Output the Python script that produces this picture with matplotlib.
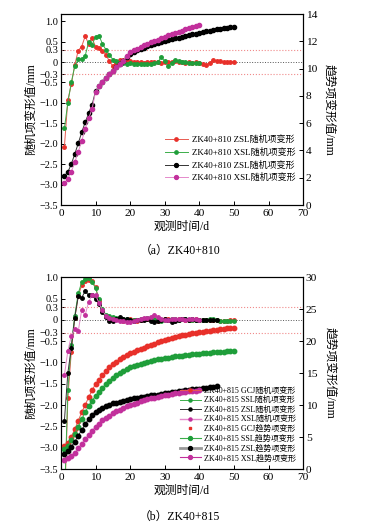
import matplotlib
matplotlib.use("Agg")
import matplotlib.pyplot as plt
from matplotlib.lines import Line2D

plt.rcParams['font.family'] = ['Liberation Serif', 'Noto Sans CJK SC']
plt.rcParams['axes.unicode_minus'] = True

# ---------------- data: panel (a) ZK40+810 ----------------
a_zsl_rand = [-2.08, -0.93, -0.55, -0.07, 0.28, 0.38, 0.63, 0.45, 0.58, 0.38,
              0.34, 0.28, 0.18, 0.02, -0.10, -0.03, 0.04, 0.04, 0.03, 0.02,
              0.0, -0.01, 0.0, -0.02, -0.01, 0.0, 0.01, -0.01, -0.02, 0.0,
              0.01, -0.01, 0.02, 0.0, -0.01, -0.02, -0.01, -0.02, -0.01, -0.02,
              -0.04, -0.07, -0.02, 0.04, 0.03, 0.02, 0.01, 0.01, 0.0, 0.01]
a_xsl_rand = [-1.62, -1.0, -0.5, -0.1, 0.07, 0.07, 0.15, 0.48, 0.42, 0.62,
              0.64, 0.45, 0.30, 0.18, 0.06, 0.02, -0.02, -0.03, -0.04, -0.03,
              -0.04, -0.05, -0.04, -0.05, -0.04, -0.05, -0.03, 0.0, 0.12, 0.02,
              -0.10, -0.02, 0.05, 0.03, 0.0, -0.01, -0.02, -0.03, -0.02, -0.03]
a_zsl_trend = [2.13, 2.42, 3.0, 3.74, 4.52, 5.33, 6.06, 6.72, 7.35, 8.35,
               8.7, 9.05, 9.35, 9.6, 9.85, 10.1, 10.35, 10.6, 10.85, 11.1,
               11.22, 11.34, 11.45, 11.55, 11.64, 11.73, 11.8, 11.88, 11.95, 12.02,
               12.09, 12.16, 12.22, 12.28, 12.34, 12.4, 12.46, 12.52, 12.58, 12.64,
               12.69, 12.74, 12.79, 12.84, 12.88, 12.92, 12.96, 13.0, 13.04, 13.07]
a_xsl_trend = [1.59, 1.93, 2.44, 3.13, 3.89, 4.71, 5.55, 6.35, 7.04, 8.3,
               8.7, 9.05, 9.35, 9.6, 9.85, 10.1, 10.35, 10.6, 10.9, 11.2,
               11.35, 11.48, 11.6, 11.72, 11.83, 11.94, 12.04, 12.14, 12.24, 12.34,
               12.44, 12.53, 12.62, 12.71, 12.8, 12.88, 12.96, 13.04, 13.12, 13.2]

# ---------------- data: panel (b) ZK40+815 ----------------
b_gcj_rand = [-4.5, -1.84, -0.75, 0.05, 0.55, 0.82, 0.9, 0.93, 0.9, 0.78,
              0.45, 0.2, 0.1, 0.05, 0.03, 0.02, 0.0, -0.02, 0.0, 0.02,
              0.0, -0.02, 0.0, 0.02, 0.03, 0.02, 0.0, -0.02, 0.0, 0.02,
              0.01, 0.0, -0.01, 0.01, 0.02, 0.0, -0.01, 0.0, 0.01, 0.0,
              -0.01, 0.0, 0.0, -0.01, 0.0, -0.02, -0.03, -0.02, -0.01, 0.0]
b_ssl_rand = [-4.3, -1.65, -0.6, 0.1, 0.62, 0.88, 0.95, 0.97, 0.88, 0.75,
              0.48, 0.25, 0.12, 0.08, 0.06, 0.05, 0.04, 0.03, 0.02, 0.0,
              -0.01, 0.0, 0.02, 0.03, 0.04, 0.05, 0.03, 0.0, -0.03, -0.01,
              0.0, 0.02, 0.01, 0.0, 0.01, 0.02, 0.0, -0.01, 0.0, 0.0,
              -0.01, 0.0, 0.02, 0.03, 0.0, -0.02, -0.03, -0.03, -0.02, -0.02]
b_zsl_rand = [-2.37, -1.25, -0.65, 0.05, 0.55, 0.52, 0.67, 0.58, 0.58, 0.48,
              0.38, 0.18, 0.06, -0.02, -0.03, 0.02, 0.06, 0.03, 0.01, 0.0,
              -0.02, -0.01, 0.0, -0.01, 0.02, -0.03, -0.04, -0.02, 0.0, 0.01,
              -0.01, -0.05, -0.02, 0.0, 0.02, 0.01, 0.0, 0.02, 0.0, -0.01,
              0.0, 0.0, -0.01, 0.0, 0.0]
b_xsl_rand = [-1.3, -0.73, -0.38, -0.22, -0.27, 0.23, 0.11, 0.42, 0.58, 0.58,
              0.4, 0.22, 0.1, 0.04, 0.02, 0.0, -0.02, -0.03, -0.05, -0.06,
              -0.03, 0.0, 0.02, 0.04, 0.05, 0.07, 0.12, 0.06, 0.02, 0.0,
              -0.01, 0.01, 0.02, 0.03, 0.02, 0.0, 0.01, 0.02, 0.01, 0.0]
b_gcj_trend = [3.6, 4.1, 5.05, 6.2, 7.55, 8.85, 10.0, 11.2, 12.3, 13.3,
               14.0, 14.7, 15.3, 15.9, 16.4, 16.8, 17.2, 17.5, 17.8, 18.1,
               18.35, 18.6, 18.8, 19.0, 19.2, 19.4, 19.6, 19.8, 20.0, 20.2,
               20.35, 20.5, 20.65, 20.8, 20.9, 21.0, 21.1, 21.2, 21.3, 21.4,
               21.5, 21.58, 21.65, 21.72, 21.8, 21.86, 21.92, 21.98, 22.04, 22.1]
b_ssl_trend = [3.07, 3.6, 4.5, 5.47, 6.6, 7.76, 8.85, 9.84, 10.7, 11.4,
               12.1, 12.7, 13.3, 13.8, 14.3, 14.7, 15.05, 15.35, 15.65, 15.9,
               16.1, 16.3, 16.5, 16.65, 16.8, 16.92, 17.04, 17.15, 17.25, 17.35,
               17.44, 17.52, 17.6, 17.67, 17.74, 17.8, 17.86, 17.92, 17.98, 18.03,
               18.08, 18.13, 18.18, 18.23, 18.28, 18.33, 18.37, 18.41, 18.45, 18.5]
b_zsl_trend = [2.34, 2.81, 3.5, 4.27, 5.2, 6.1, 6.98, 7.8, 8.44, 8.95,
               9.3, 9.6, 9.85, 10.05, 10.25, 10.4, 10.55, 10.7, 10.82, 10.95,
               11.05, 11.15, 11.25, 11.33, 11.42, 11.5, 11.58, 11.65, 11.72, 11.85,
               11.93, 12.0, 12.08, 12.15, 12.22, 12.3, 12.37, 12.44, 12.51, 12.58,
               12.66, 12.74, 12.82, 12.9, 12.97]
b_xsl_trend = [1.4, 1.67, 2.03, 2.55, 3.23, 3.9, 4.64, 5.31, 5.98, 6.6,
               7.1, 7.6, 8.0, 8.35, 8.7, 9.0, 9.3, 9.55, 9.8, 10.0,
               10.2, 10.4, 10.57, 10.73, 10.9, 11.04, 11.17, 11.3, 11.43, 11.56,
               11.65, 11.74, 11.83, 11.92, 12.0, 12.07, 12.14, 12.21, 12.28, 12.34]

left_ticks = [-3.5, -3.0, -2.5, -2.0, -1.5, -1.0, -0.5, -0.3, 0, 0.3, 0.5, 1.0]
left_labels = ['\u22123.5', '\u22123.0', '\u22122.5', '\u22122.0', '\u22121.5', '\u22121.0',
               '\u22120.5', '\u22120.3', '0', '0.3', '0.5', '1.0']

RED = '#e8302a'
GREEN = '#1f9e3a'
BLACK = '#000000'
MAG = '#c2309c'
RED_L = '#e85a50'
GREEN_L = '#3cae4a'
MAG_L = '#e58acb'


def days(s):
    return list(range(1, len(s) + 1))


def setup(ax, ax2, ylim_left, ylim_right, rticks):
    ax.set_xlim(0, 70)
    ax.set_ylim(*ylim_left)
    ax2.set_ylim(*ylim_right)
    ax.set_yticks(left_ticks)
    ax.set_yticklabels(left_labels)
    ax.set_xticks(range(0, 71, 10))
    ax2.set_yticks(rticks)
    for a in (ax, ax2):
        a.tick_params(direction='in', labelsize=8.2, length=3, width=0.7, pad=2)
    ax.tick_params(axis='y', labelsize=7.4)
    ax.tick_params(axis='x', pad=3)
    ax.axhline(0.3, color='#f08a8a', ls=':', lw=0.8)
    ax.axhline(-0.3, color='#f08a8a', ls=':', lw=0.8)
    ax.axhline(0, color='#555555', ls=':', lw=0.7)
    ax.set_xlabel('观测时间/d', fontsize=8.5, labelpad=2)
    ax.set_ylabel('随机项变形值/mm', fontsize=8.5, labelpad=2)
    ax2.set_ylabel('趋势项变形值/mm', fontsize=8.5, rotation=270, labelpad=13)


fig = plt.figure(figsize=(3.67, 5.27), dpi=100)

# ---------------- panel (a) ----------------
ax = fig.add_axes([0.166, 0.611, 0.660, 0.362])
ax2 = ax.twinx()
setup(ax, ax2, (-3.5, 1.17), (0, 14), range(0, 15, 2))
ax.plot(days(a_zsl_rand), a_zsl_rand, color=RED_L, lw=0.7, marker='o', ms=2.5,
        mfc=RED, mec=RED)
ax.plot(days(a_xsl_rand), a_xsl_rand, color=GREEN_L, lw=0.7, marker='o', ms=2.5,
        mfc=GREEN, mec=GREEN)
ax2.plot(days(a_zsl_trend), a_zsl_trend, color='#333333', lw=0.7, marker='o', ms=3.0,
         mfc=BLACK, mec=BLACK)
ax2.plot(days(a_xsl_trend), a_xsl_trend, color=MAG_L, lw=0.7, marker='o', ms=3.0,
         mfc=MAG, mec=MAG)
handles_a = [
    Line2D([], [], color=RED_L, lw=0.7, marker='o', ms=2.4, mfc=RED, mec=RED),
    Line2D([], [], color=GREEN_L, lw=0.7, marker='o', ms=2.4, mfc=GREEN, mec=GREEN),
    Line2D([], [], color='#333333', lw=0.7, marker='o', ms=2.8, mfc=BLACK, mec=BLACK),
    Line2D([], [], color=MAG_L, lw=0.7, marker='o', ms=2.8, mfc=MAG, mec=MAG),
]
labels_a = ['ZK40+810 ZSL随机项变形', 'ZK40+810 XSL随机项变形',
            'ZK40+810 ZSL随机项变形', 'ZK40+810 XSL随机项变形']
ax2.legend(handles_a, labels_a, loc='lower right', bbox_to_anchor=(0.99, 0.09),
           frameon=False, fontsize=6.5, handlelength=2.6, labelspacing=0.4,
           borderpad=0.1, handletextpad=0.4)
fig.text(0.49, 0.518, '（a）ZK40+810', ha='center', fontsize=8.5)

# ---------------- panel (b) ----------------
bx = fig.add_axes([0.166, 0.110, 0.660, 0.364])
bx2 = bx.twinx()
setup(bx, bx2, (-3.5, 1.0), (0, 30), range(0, 31, 5))
bx.plot(days(b_gcj_rand), b_gcj_rand, color=RED_L, lw=0.7, marker='o', ms=2.5,
        mfc=RED, mec=RED)
bx.plot(days(b_ssl_rand), b_ssl_rand, color=GREEN_L, lw=0.7, marker='o', ms=2.5,
        mfc=GREEN, mec=GREEN)
bx.plot(days(b_zsl_rand), b_zsl_rand, color='#333333', lw=0.7, marker='o', ms=2.5,
        mfc=BLACK, mec=BLACK)
bx.plot(days(b_xsl_rand), b_xsl_rand, color=MAG_L, lw=0.7, marker='o', ms=2.5,
        mfc=MAG, mec=MAG)
bx2.plot(days(b_gcj_trend), b_gcj_trend, color=RED_L, lw=0.7, marker='o', ms=3.2,
         mfc=RED, mec=RED)
bx2.plot(days(b_ssl_trend), b_ssl_trend, color=GREEN_L, lw=0.7, marker='o', ms=3.2,
         mfc=GREEN, mec=GREEN)
bx2.plot(days(b_zsl_trend), b_zsl_trend, color='#333333', lw=0.7, marker='o', ms=3.2,
         mfc=BLACK, mec=BLACK)
bx2.plot(days(b_xsl_trend), b_xsl_trend, color=MAG_L, lw=0.7, marker='o', ms=3.2,
         mfc=MAG, mec=MAG)
handles_b = [
    Line2D([], [], color=RED_L, lw=0.7, marker='o', ms=2.2, mfc=RED, mec=RED),
    Line2D([], [], color=GREEN_L, lw=0.7, marker='o', ms=2.2, mfc=GREEN, mec=GREEN),
    Line2D([], [], color='#333333', lw=0.7, marker='o', ms=2.2, mfc=BLACK, mec=BLACK),
    Line2D([], [], color=MAG_L, lw=1.0, marker='o', ms=2.2, mfc=MAG, mec=MAG),
    Line2D([], [], color=RED, lw=0, marker='s', ms=1.6, mfc=RED, mec=RED),
    Line2D([], [], color=GREEN_L, lw=0.8, marker='o', ms=2.8, mfc=GREEN, mec=GREEN),
    Line2D([], [], color='#999999', lw=2.0, marker='o', ms=2.8, mfc=BLACK, mec=BLACK),
    Line2D([], [], color=MAG, lw=0.8, marker='o', ms=2.8, mfc=MAG, mec=MAG),
]
labels_b = ['ZK40+815 GCJ随机项变形', 'ZK40+815 SSL随机项变形',
            'ZK40+815 ZSL随机项变形', 'ZK40+815 XSL随机项变形',
            'ZK40+815 GCJ趋势项变形', 'ZK40+815 SSL趋势项变形',
            'ZK40+815 ZSL趋势项变形', 'ZK40+815 XSL趋势项变形']
bx2.legend(handles_b, labels_b, loc='lower right', bbox_to_anchor=(0.99, 0.01),
           frameon=False, fontsize=5.8, handlelength=2.6, labelspacing=0.18,
           borderpad=0.1, handletextpad=0.4)
fig.text(0.49, 0.014, '（b）ZK40+815', ha='center', fontsize=8.5)

fig.savefig('out.png', dpi=100)
